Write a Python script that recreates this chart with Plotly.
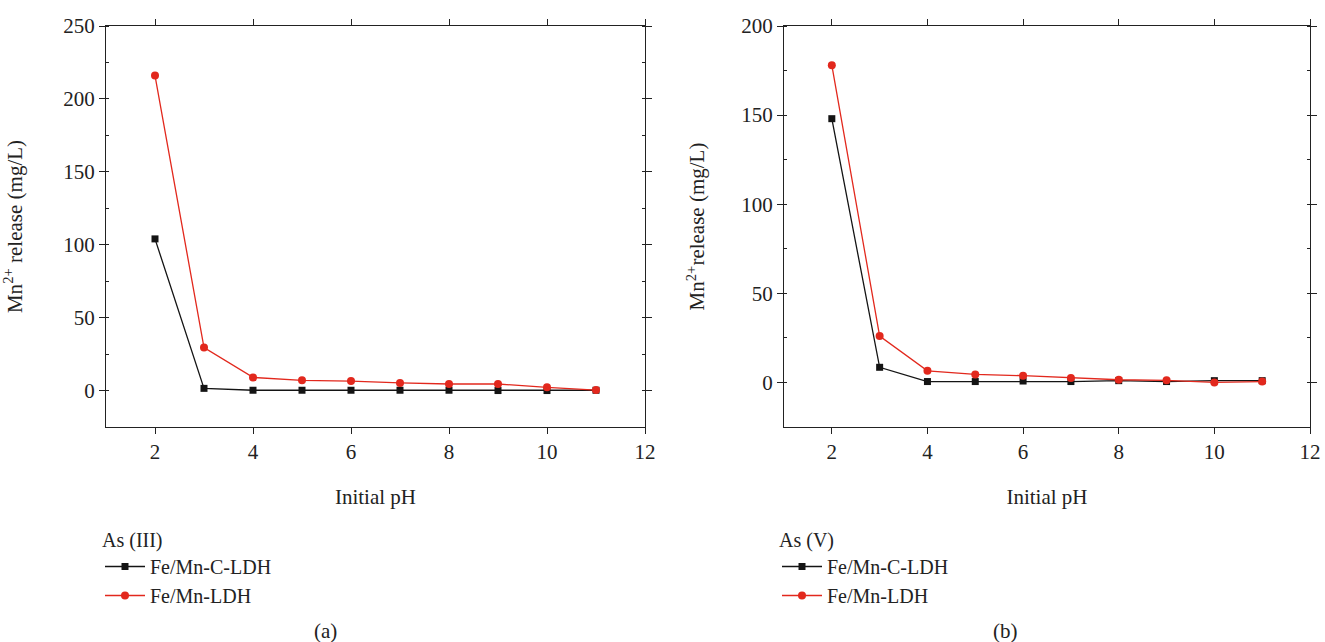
import plotly.graph_objects as go

ph = [2, 3, 4, 5, 6, 7, 8, 9, 10, 11]

# As(III) panel (a)
a_c_ldh = [104, 1.5, 0.2, 0.2, 0.2, 0.2, 0.2, 0.0, 0.0, 0.2]
a_ldh = [216, 29.5, 9.0, 7.0, 6.5, 5.2, 4.5, 4.5, 2.2, 0.3]

# As(V) panel (b)
b_c_ldh = [148, 8.5, 0.5, 0.5, 0.8, 0.5, 1.0, 0.5, 1.0, 1.0]
b_ldh = [178, 26, 6.5, 4.5, 3.8, 2.5, 1.5, 1.2, 0.0, 0.5]

names = ["Fe/Mn-C-LDH", "Fe/Mn-LDH"]
legend_titles = ["As (III)", "As (V)"]
captions = ["(a)", "(b)"]
ytitles = ["Mn<sup>2+</sup> release (mg/L)", "Mn<sup>2+</sup>release (mg/L)"]

BLACK = "#141414"
RED = "#e2281d"
FONT = "Liberation Serif"
TXT = "#222"

fig = go.Figure()

panels = [(a_c_ldh, a_ldh, "x", "y", "legend"), (b_c_ldh, b_ldh, "x2", "y2", "legend2")]
for (cvals, lvals, xa, ya, lg) in panels:
    fig.add_trace(go.Scatter(x=ph, y=cvals, name=names[0], mode="lines+markers",
                             line=dict(color=BLACK, width=1.3),
                             marker=dict(symbol="square", size=7, color=BLACK),
                             xaxis=xa, yaxis=ya, legend=lg))
    fig.add_trace(go.Scatter(x=ph, y=lvals, name=names[1], mode="lines+markers",
                             line=dict(color=RED, width=1.3),
                             marker=dict(symbol="circle", size=8, color=RED),
                             xaxis=xa, yaxis=ya, legend=lg))

W, H = 1325, 642


def px(X):
    return X / W


def py(Y):
    return (H - Y) / H


ydom = [py(427), py(26)]

axis_common = dict(showline=True, linecolor="#222", linewidth=1.2, mirror="ticks",
                   ticks="outside", ticklen=6, tickcolor="#222", tickwidth=1.2,
                   showgrid=False, zeroline=False, automargin=False,
                   ticklabeloverflow="allow",
                   tickfont=dict(family=FONT, size=21, color=TXT))

xaxis_common = dict(axis_common, range=[1, 12], tickvals=[2, 4, 6, 8, 10, 12],
                    title=dict(text="Initial pH", font=dict(family=FONT, size=21, color=TXT), standoff=26))

LEG_FONT = 20

fig.update_layout(
    width=W, height=H,
    paper_bgcolor="white", plot_bgcolor="white",
    margin=dict(l=0, r=0, t=0, b=0, autoexpand=False),
    font=dict(family=FONT, size=21, color=TXT),
    xaxis=dict(xaxis_common, domain=[px(106), px(645)], anchor="y"),
    xaxis2=dict(xaxis_common, domain=[px(784), px(1310)], anchor="y2"),
    yaxis=dict(axis_common, domain=ydom, range=[-25, 250], tickvals=[0, 50, 100, 150, 200, 250],
               minor=dict(ticks="inside", ticklen=3, tickcolor="#222", dtick=25, tick0=0),
               title=dict(text=ytitles[0], font=dict(family=FONT, size=21, color=TXT), standoff=39),
               anchor="x"),
    yaxis2=dict(axis_common, domain=ydom, range=[-25, 200], tickvals=[0, 50, 100, 150, 200],
                minor=dict(ticks="inside", ticklen=3, tickcolor="#222", dtick=25, tick0=0),
                title=dict(text=ytitles[1], font=dict(family=FONT, size=21, color=TXT), standoff=30),
                anchor="x2"),
    legend=dict(x=px(100), y=py(521), xanchor="left", yanchor="top",
                title=dict(text=legend_titles[0], side="top", font=dict(family=FONT, size=LEG_FONT)),
                font=dict(family=FONT, size=LEG_FONT, color=TXT), bgcolor="rgba(0,0,0,0)",
                tracegroupgap=0, itemwidth=40),
    legend2=dict(x=px(777), y=py(521), xanchor="left", yanchor="top",
                 title=dict(text=legend_titles[1], side="top", font=dict(family=FONT, size=LEG_FONT)),
                 font=dict(family=FONT, size=LEG_FONT, color=TXT), bgcolor="rgba(0,0,0,0)",
                 tracegroupgap=0, itemwidth=40),
    showlegend=True,
)

for cap, cx in zip(captions, [325, 1005]):
    fig.add_annotation(text=cap, x=px(cx), y=py(631), xref="paper", yref="paper",
                       xanchor="center", yanchor="middle", showarrow=False,
                       font=dict(family=FONT, size=21, color=TXT))

fig.write_html("out.html",
               config={"displayModeBar": False},
               post_script="document.body.style.margin='0';document.body.style.overflow='hidden';")
